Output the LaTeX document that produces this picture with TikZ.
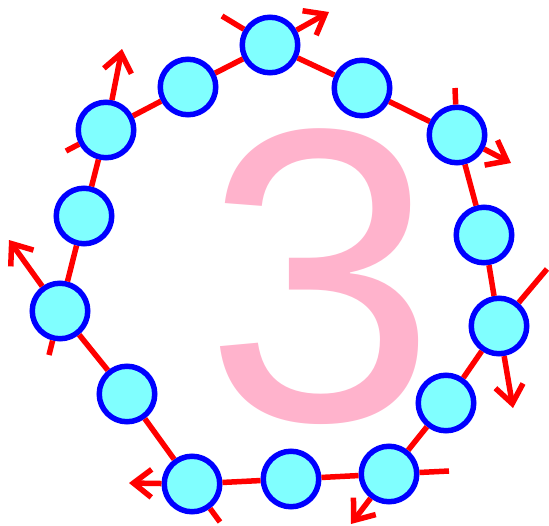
\documentclass[tikz,border=0pt]{standalone}
\usepackage{fontspec}
\newfontfamily\digitfont{Liberation Sans}
\usetikzlibrary{arrows.meta}
\definecolor{beadfill}{RGB}{128,255,255}
\definecolor{bigpink}{RGB}{255,179,204}
\tikzset{
  bead/.style={circle, draw=blue, fill=beadfill, line width=5.5pt, minimum size=55.5pt, inner sep=0pt},
  bond/.style={red, line width=5.5pt},
  spin/.style={red, line width=5.5pt, -{Straight Barb[length=18pt,width=28pt]}},
}

\begin{document}
\begin{tikzpicture}[x=1pt,y=-1pt]
\useasboundingbox (0,0) rectangle (549,525);
% big digit behind the ring
\node[text=bigpink, inner sep=0pt, anchor=base] (digit) at (321,420)
    {\digitfont\fontsize{418}{418}\selectfont 3};

% beads of the ring
\foreach \n/\x/\y in {1/270/45, 2/362/88, 3/457/135, 4/484/235, 5/499/326,
    6/446/403, 7/389/474, 8/291/479, 9/192/484, 10/127/394, 11/60/311,
    12/84/216, 13/106/130, 14/188/87}
  \node[bead] (b\n) at (\x,\y) {};

% bonds
\draw[bond] (b1) -- (b2) -- (b3) -- (b4) -- (b5) -- (b6) -- (b7) -- (b8)
    -- (b9) -- (b10) -- (b11) -- (b12) -- (b13) -- (b14) -- (b1);

% spins and stubs on every other bead
\foreach \n/\tx/\ty/\sx/\sy in {1/329/12/222/16, 3/511/163/455/88,
    5/513/408/547/269, 7/351/524/449/471, 9/129/483/220/522,
    11/9/240/49/355, 13/122/49/66/151} {
  \coordinate (t\n) at (\tx,\ty);
  \coordinate (s\n) at (\sx,\sy);
  \draw[spin] (b\n) -- (t\n);
  \draw[bond] (b\n) -- (s\n);
}
\end{tikzpicture}
\end{document}
